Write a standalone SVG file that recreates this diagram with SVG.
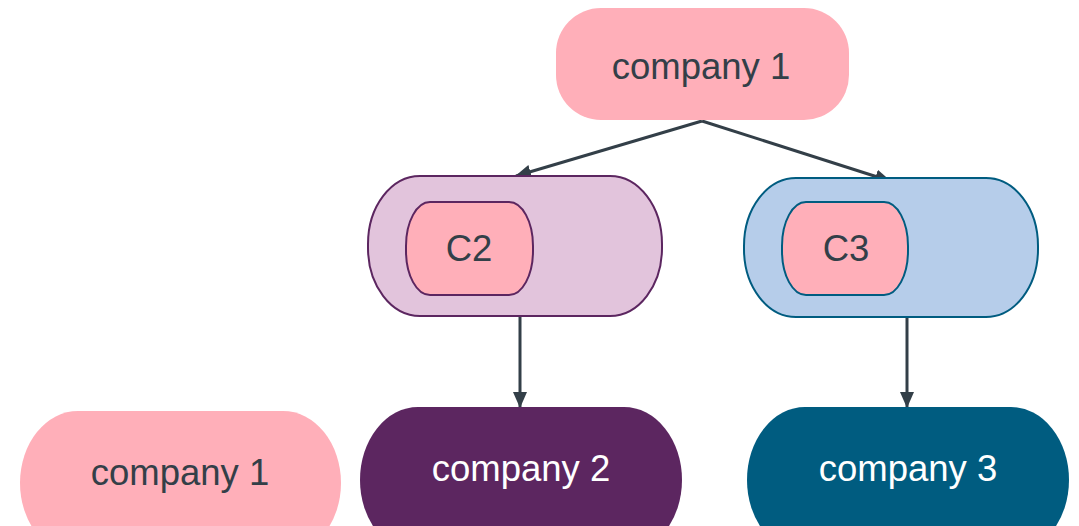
<svg xmlns="http://www.w3.org/2000/svg" width="1079" height="526" viewBox="0 0 1079 526">
  <defs>
    <marker id="arrow" markerWidth="16" markerHeight="14" refX="15" refY="7" orient="auto" markerUnits="userSpaceOnUse">
      <path d="M0,0 L16,7 L0,14 Z" fill="#333f48"/>
    </marker>
    <style>
      .label { font-family: "Liberation Sans", Arial, sans-serif; font-size: 36.5px; text-anchor: middle; }
      .dark { fill: #333f48; }
      .light { fill: #ffffff; }
      .pink { fill: #ffafb9; }
      .edge { stroke: #333f48; stroke-width: 3; fill: none; marker-end: url(#arrow); }
    </style>
  </defs>

  <rect width="1079" height="526" fill="#ffffff"/>

  <g id="connectors">
    <line class="edge" x1="702" y1="121" x2="516" y2="176"/>
    <line class="edge" x1="702" y1="121" x2="890" y2="181"/>
    <line class="edge" x1="520" y1="316" x2="520" y2="407"/>
    <line class="edge" x1="907" y1="315" x2="907" y2="407"/>
  </g>

  <g id="top-company-1">
    <rect class="pink" x="556" y="8" width="293" height="112" rx="45" ry="45"/>
    <text class="label dark" x="701" y="79">company 1</text>
  </g>

  <g id="group-c2">
    <rect x="368" y="176" width="294" height="140" rx="52" ry="68" fill="#e2c4dc" stroke="#5c2660" stroke-width="2"/>
    <g id="c2">
      <rect class="pink" x="406" y="202" width="127" height="93" rx="24" ry="44" stroke="#5c2660" stroke-width="2"/>
      <text class="label dark" x="469" y="261">C2</text>
    </g>
  </g>

  <g id="group-c3">
    <rect x="744" y="178" width="294" height="139" rx="52" ry="68" fill="#b6cdea" stroke="#005c80" stroke-width="2"/>
    <g id="c3">
      <rect class="pink" x="782" y="202" width="126" height="93" rx="24" ry="44" stroke="#005c80" stroke-width="2"/>
      <text class="label dark" x="846" y="261">C3</text>
    </g>
  </g>

  <g id="bottom-company-1">
    <rect class="pink" x="20" y="411" width="321" height="144" rx="58" ry="72"/>
    <text class="label dark" x="180" y="485">company 1</text>
  </g>

  <g id="company-2">
    <rect x="360" y="407" width="322" height="146" rx="58" ry="73" fill="#5c2660"/>
    <text class="label light" x="521" y="481">company 2</text>
  </g>

  <g id="company-3">
    <rect x="747" y="407" width="322" height="146" rx="58" ry="73" fill="#005c80"/>
    <text class="label light" x="908" y="481">company 3</text>
  </g>
</svg>
